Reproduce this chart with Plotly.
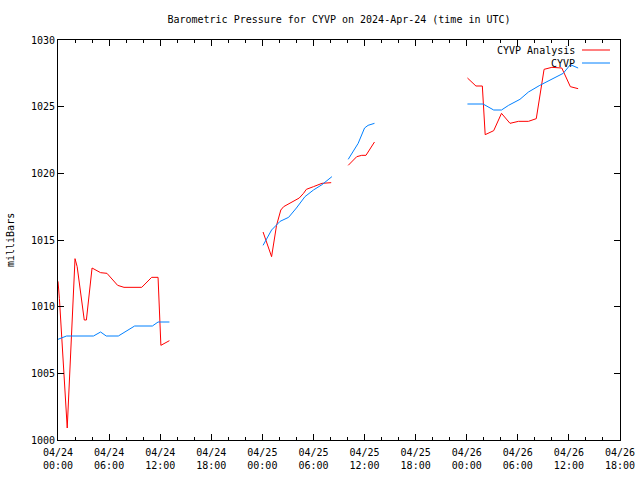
import plotly.graph_objects as go

# ---- data (None marks a gap between reporting periods) ----
analysis_times = [
    "2024-04-24 00:00", "2024-04-24 00:10", "2024-04-24 01:05", "2024-04-24 02:00",
    "2024-04-24 02:15", "2024-04-24 03:05", "2024-04-24 03:20", "2024-04-24 04:00",
    "2024-04-24 05:00", "2024-04-24 05:45", "2024-04-24 07:00", "2024-04-24 07:45",
    "2024-04-24 09:50", "2024-04-24 11:00", "2024-04-24 11:45", "2024-04-24 12:05",
    "2024-04-24 13:05",
    "2024-04-24 18:00",
    "2024-04-25 00:05", "2024-04-25 01:05", "2024-04-25 01:40", "2024-04-25 02:10",
    "2024-04-25 02:30", "2024-04-25 03:40", "2024-04-25 04:20", "2024-04-25 04:50",
    "2024-04-25 05:10", "2024-04-25 06:00", "2024-04-25 07:00", "2024-04-25 08:05",
    "2024-04-25 09:00",
    "2024-04-25 10:05", "2024-04-25 11:05", "2024-04-25 11:40", "2024-04-25 12:10",
    "2024-04-25 13:10",
    "2024-04-25 18:00",
    "2024-04-26 00:05", "2024-04-26 01:05", "2024-04-26 01:50", "2024-04-26 02:10",
    "2024-04-26 03:10", "2024-04-26 04:05", "2024-04-26 05:05", "2024-04-26 06:05",
    "2024-04-26 07:15", "2024-04-26 08:10", "2024-04-26 09:05", "2024-04-26 10:00",
    "2024-04-26 11:10", "2024-04-26 12:10", "2024-04-26 13:05",
]
analysis_values = [
    1011.9, 1010.6, 1000.9, 1013.6,
    1013.0, 1009.0, 1009.0, 1012.9,
    1012.55, 1012.5, 1011.6, 1011.45,
    1011.45, 1012.2, 1012.2, 1007.1,
    1007.45,
    None,
    1015.6, 1013.75, 1016.1, 1017.25,
    1017.5, 1017.9, 1018.15, 1018.5,
    1018.8, 1019.0, 1019.25, 1019.3,
    None,
    1020.6, 1021.25, 1021.35, 1021.35,
    1022.35,
    None,
    1027.15, 1026.55, 1026.55, 1022.9,
    1023.2, 1024.5, 1023.75, 1023.9,
    1023.9, 1024.1, 1027.8, 1027.95,
    1027.9, 1026.5, 1026.35,
]

obs_times = [
    "2024-04-24 00:00", "2024-04-24 01:00", "2024-04-24 04:10", "2024-04-24 05:00",
    "2024-04-24 05:40", "2024-04-24 07:05", "2024-04-24 09:00", "2024-04-24 11:05",
    "2024-04-24 11:45", "2024-04-24 13:05",
    "2024-04-24 18:00",
    "2024-04-25 00:05", "2024-04-25 01:05", "2024-04-25 02:05", "2024-04-25 03:05",
    "2024-04-25 04:00", "2024-04-25 05:00", "2024-04-25 06:00", "2024-04-25 07:00",
    "2024-04-25 08:10",
    "2024-04-25 09:00",
    "2024-04-25 10:05", "2024-04-25 10:40", "2024-04-25 11:15", "2024-04-25 12:00",
    "2024-04-25 12:25", "2024-04-25 13:10",
    "2024-04-25 18:00",
    "2024-04-26 00:05", "2024-04-26 01:55", "2024-04-26 03:10", "2024-04-26 04:05",
    "2024-04-26 04:55", "2024-04-26 06:15", "2024-04-26 07:15", "2024-04-26 08:35",
    "2024-04-26 11:20", "2024-04-26 12:10", "2024-04-26 13:05",
]
obs_values = [
    1007.55, 1007.8, 1007.8, 1008.1,
    1007.8, 1007.8, 1008.55, 1008.55,
    1008.85, 1008.85,
    None,
    1014.6, 1015.75, 1016.4, 1016.7,
    1017.4, 1018.25, 1018.75, 1019.15,
    1019.75,
    None,
    1021.05, 1021.65, 1022.25, 1023.4,
    1023.6, 1023.75,
    None,
    1025.2, 1025.2, 1024.75, 1024.75,
    1025.1, 1025.55, 1026.1, 1026.6,
    1027.5, 1028.15, 1027.9,
]

tick_vals = [
    "2024-04-24 00:00", "2024-04-24 06:00", "2024-04-24 12:00", "2024-04-24 18:00",
    "2024-04-25 00:00", "2024-04-25 06:00", "2024-04-25 12:00", "2024-04-25 18:00",
    "2024-04-26 00:00", "2024-04-26 06:00", "2024-04-26 12:00", "2024-04-26 18:00",
]
tick_text = [
    "04/24<br>00:00", "04/24<br>06:00", "04/24<br>12:00", "04/24<br>18:00",
    "04/25<br>00:00", "04/25<br>06:00", "04/25<br>12:00", "04/25<br>18:00",
    "04/26<br>00:00", "04/26<br>06:00", "04/26<br>12:00", "04/26<br>18:00",
]

series_names = ["CYVP Analysis", "CYVP"]
series_colors = ["#ff0000", "#0080ff"]

FONT = "DejaVu Sans Mono"

fig = go.Figure()
fig.add_trace(go.Scatter(x=analysis_times, y=analysis_values, mode="lines",
                         name=series_names[0], connectgaps=False,
                         line=dict(color=series_colors[0], width=1)))
fig.add_trace(go.Scatter(x=obs_times, y=obs_values, mode="lines",
                         name=series_names[1], connectgaps=False,
                         line=dict(color=series_colors[1], width=1)))

# manual gnuplot-style legend (text right, sample line to its right)
legend_y = [0.975, 0.9425]
for name, color, ly in zip(series_names, series_colors, legend_y):
    fig.add_annotation(xref="paper", yref="paper", x=0.923, y=ly, text=name,
                       showarrow=False, xanchor="right", yanchor="middle",
                       font=dict(family=FONT, size=10, color="black"))
    fig.add_shape(type="line", xref="paper", yref="paper",
                  x0=0.9324, x1=0.9822, y0=ly, y1=ly,
                  line=dict(color=color, width=1))

fig.add_annotation(xref="paper", yref="paper", x=0, y=0.5, xshift=-48,
                   text="milliBars", textangle=-90, showarrow=False,
                   xanchor="center", yanchor="middle",
                   font=dict(family=FONT, size=10, color="black"))

fig.update_layout(
    width=640, height=480,
    margin=dict(l=58, r=20, t=40, b=40, autoexpand=False),
    paper_bgcolor="white", plot_bgcolor="white",
    showlegend=False,
    font=dict(family=FONT, size=10, color="black"),
    title=dict(text="Barometric Pressure for CYVP on 2024-Apr-24 (time in UTC)",
               x=0.5, xref="paper", y=0.96, yref="container",
               xanchor="center", yanchor="middle", automargin=False,
               font=dict(family=FONT, size=10, color="black")),
)
fig.update_xaxes(
    type="date", range=["2024-04-24 00:00", "2024-04-26 18:00"],
    tickmode="array", tickvals=tick_vals, ticktext=tick_text,
    ticks="inside", ticklen=6, tickcolor="black", tickwidth=1,
    ticklabelstandoff=3,
    showline=True, linecolor="black", linewidth=1, mirror="ticks",
    showgrid=False, zeroline=False, automargin=False,
    minor=dict(ticks="inside", ticklen=3, tickcolor="black",
               dtick=2 * 3600 * 1000, tick0="2024-04-24 00:00", showgrid=False),
)
fig.update_yaxes(
    range=[1000, 1030], dtick=5, tick0=1000,
    ticks="inside", ticklen=6, tickcolor="black", tickwidth=1,
    showline=True, linecolor="black", linewidth=1, mirror="ticks",
    showgrid=False, zeroline=False, automargin=False,
)

fig.write_html(
    "out.html",
    config={"displayModeBar": False},
    post_script="document.body.style.margin='0';document.body.style.padding='0';",
)
